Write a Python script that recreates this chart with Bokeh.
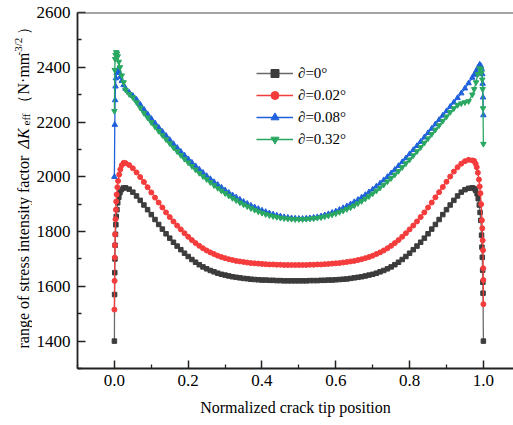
from bokeh.plotting import figure
from bokeh.models import FixedTicker, Legend, LegendItem, Span
from bokeh.layouts import row
from bokeh.core.properties import value
from bokeh.embed import file_html
from bokeh.resources import INLINE
import math

# ---------------- data ----------------
X_MID = [0.03, 0.04, 0.05, 0.06, 0.07, 0.08, 0.09, 0.10, 0.11, 0.12,
         0.13, 0.14, 0.15, 0.16, 0.17, 0.18, 0.19, 0.20, 0.21, 0.22,
         0.23, 0.24, 0.25, 0.26, 0.27, 0.28, 0.29, 0.30, 0.31, 0.32,
         0.33, 0.34, 0.35, 0.36, 0.37, 0.38, 0.39, 0.40, 0.41, 0.42,
         0.43, 0.44, 0.45, 0.46, 0.47, 0.48, 0.49, 0.50, 0.51, 0.52,
         0.53, 0.54, 0.55, 0.56, 0.57, 0.58, 0.59, 0.60, 0.61, 0.62,
         0.63, 0.64, 0.65, 0.66, 0.67, 0.68, 0.69, 0.70, 0.71, 0.72,
         0.73, 0.74, 0.75, 0.76, 0.77, 0.78, 0.79, 0.80, 0.81, 0.82,
         0.83, 0.84, 0.85, 0.86, 0.87, 0.88, 0.89, 0.90, 0.91, 0.92,
         0.93, 0.94, 0.95, 0.96, 0.97]

# a = 0
A0_XL = [0.0, 0.0005, 0.001, 0.0015, 0.002, 0.003, 0.004, 0.005, 0.007, 0.009, 0.012, 0.015, 0.019, 0.024]
A0_YL = [1400, 1570, 1650, 1700, 1750, 1790, 1825, 1855, 1880, 1905, 1925, 1942, 1953, 1959]
A0_YM = [1960, 1955, 1944, 1930, 1914, 1897, 1880, 1862, 1844, 1826,
         1809, 1792, 1776, 1761, 1747, 1734, 1721, 1709, 1698, 1688,
         1679, 1671, 1664, 1658, 1653, 1648, 1644, 1641, 1638, 1635,
         1633, 1631, 1629, 1628, 1626, 1625, 1624, 1623, 1623, 1622,
         1622, 1621, 1621, 1620, 1620, 1620, 1620, 1620, 1620, 1620,
         1621, 1621, 1621, 1622, 1622, 1623, 1623, 1624, 1625, 1626,
         1627, 1629, 1631, 1633, 1635, 1638, 1641, 1644, 1648, 1653,
         1658, 1664, 1671, 1679, 1688, 1698, 1709, 1721, 1734, 1747,
         1761, 1776, 1792, 1809, 1826, 1844, 1862, 1880, 1897, 1914,
         1930, 1944, 1953, 1958, 1960]
A0_XR = [0.975, 0.979, 0.983, 0.986, 0.989, 0.991, 0.993, 0.995, 0.996, 0.997, 0.998, 0.9985, 0.999, 1.0]
A0_YR = [1957, 1950, 1938, 1920, 1897, 1870, 1841, 1787, 1743, 1706, 1659, 1615, 1575, 1400]

# a = 0.02
A1_XL = [0.0, 0.0005, 0.001, 0.0015, 0.002, 0.003, 0.004, 0.005, 0.006, 0.008, 0.010, 0.013, 0.016, 0.020, 0.025]
A1_YL = [1515, 1620, 1705, 1750, 1790, 1845, 1880, 1910, 1935, 1962, 1985, 2008, 2027, 2042, 2051]
A1_YM = [2050, 2043, 2031, 2016, 1999, 1981, 1962, 1943, 1924, 1906,
         1888, 1870, 1853, 1837, 1822, 1808, 1794, 1781, 1769, 1758,
         1748, 1739, 1731, 1724, 1718, 1712, 1707, 1703, 1699, 1696,
         1693, 1691, 1689, 1687, 1685, 1684, 1683, 1682, 1681, 1680,
         1680, 1679, 1679, 1678, 1678, 1678, 1678, 1678, 1678, 1678,
         1679, 1679, 1680, 1680, 1681, 1682, 1683, 1684, 1685, 1687,
         1689, 1691, 1693, 1696, 1699, 1703, 1707, 1712, 1718, 1724,
         1731, 1739, 1748, 1758, 1769, 1781, 1794, 1808, 1822, 1837,
         1853, 1870, 1888, 1906, 1925, 1944, 1963, 1982, 2001, 2019,
         2035, 2048, 2057, 2062, 2060]
A1_XR = [0.975, 0.979, 0.982, 0.985, 0.988, 0.990, 0.992, 0.994, 0.996, 0.997, 0.998, 0.999, 0.9995, 0.9998, 1.0]
A1_YR = [2058, 2048, 2035, 2015, 1990, 1965, 1940, 1900, 1841, 1812, 1768, 1732, 1666, 1623, 1535]

# a = 0.08
A2_XL = [0.0, 0.001, 0.002, 0.003, 0.004, 0.006, 0.008, 0.010, 0.013, 0.016, 0.020, 0.025]
A2_YL = [2000, 2190, 2280, 2330, 2360, 2380, 2388, 2390, 2380, 2365, 2350, 2335]
A2_YM = [2322, 2308, 2296, 2282, 2264, 2246, 2229, 2212, 2196, 2180,
         2165, 2150, 2135, 2120, 2106, 2092, 2078, 2065, 2052, 2039,
         2027, 2015, 2003, 1992, 1981, 1971, 1961, 1951, 1942, 1933,
         1925, 1917, 1909, 1902, 1895, 1889, 1883, 1877, 1872, 1867,
         1863, 1859, 1856, 1853, 1851, 1849, 1848, 1847, 1847, 1848,
         1849, 1851, 1853, 1856, 1860, 1864, 1869, 1874, 1880, 1886,
         1893, 1900, 1908, 1916, 1925, 1934, 1944, 1954, 1965, 1976,
         1988, 2000, 2013, 2026, 2040, 2054, 2068, 2083, 2098, 2113,
         2128, 2144, 2160, 2176, 2192, 2208, 2224, 2240, 2256, 2272,
         2288, 2305, 2323, 2342, 2362]
A2_XR = [0.975, 0.98, 0.985, 0.99, 0.993, 0.995, 0.997, 0.998, 0.999, 1.0]
A2_YR = [2373, 2385, 2398, 2410, 2405, 2395, 2375, 2340, 2290, 2225]

# a = 0.32
A3_XL = [0.0, 0.001, 0.002, 0.003, 0.005, 0.007, 0.009, 0.012, 0.015, 0.020, 0.025]
A3_YL = [2240, 2390, 2430, 2445, 2455, 2450, 2440, 2420, 2400, 2370, 2345]
A3_YM = [2318, 2302, 2290, 2272, 2252, 2233, 2216, 2199, 2183, 2167,
         2152, 2137, 2122, 2107, 2093, 2079, 2065, 2052, 2039, 2026,
         2014, 2002, 1991, 1980, 1969, 1959, 1949, 1940, 1931, 1922,
         1914, 1906, 1899, 1892, 1885, 1879, 1873, 1868, 1863, 1859,
         1856, 1853, 1850, 1848, 1847, 1846, 1845, 1845, 1845, 1846,
         1847, 1848, 1850, 1852, 1855, 1858, 1862, 1866, 1871, 1876,
         1882, 1888, 1895, 1903, 1911, 1920, 1929, 1939, 1949, 1960,
         1971, 1983, 1995, 2008, 2021, 2035, 2049, 2063, 2078, 2093,
         2108, 2124, 2140, 2156, 2172, 2188, 2204, 2220, 2236, 2250,
         2262, 2268, 2272, 2276, 2300]
A3_XR = [0.975, 0.98, 0.985, 0.99, 0.993, 0.995, 0.997, 0.998, 0.999, 1.0]
A3_YR = [2320, 2345, 2375, 2396, 2392, 2380, 2355, 2320, 2250, 2120]

LABELS = ["∂=0°", "∂=0.02°", "∂=0.08°", "∂=0.32°"]
X_TICKS = [0.0, 0.2, 0.4, 0.6, 0.8, 1.0]
X_MINOR = [-0.1, 0.1, 0.3, 0.5, 0.7, 0.9]
Y_TICKS = [1400, 1600, 1800, 2000, 2200, 2400, 2600]
Y_MINOR = [1300, 1500, 1700, 1900, 2100, 2300, 2500]
Y_TITLE_PARTS = ["range of stress intensity factor", "ΔK", "eff", "（N·mm", "-3/2", "）"]

series = [
    (A0_XL + X_MID + A0_XR, A0_YL + A0_YM + A0_YR),
    (A1_XL + X_MID + A1_XR, A1_YL + A1_YM + A1_YR),
    (A2_XL + X_MID + A2_XR, A2_YL + A2_YM + A2_YR),
    (A3_XL + X_MID + A3_XR, A3_YL + A3_YM + A3_YR),
]

# ---------------- styling ----------------
FONT = "Liberation Serif"
LINE_COLORS = ["#6a6a6a", "#f53c3c", "#1f60dc", "#2aa862"]
MARK_COLORS = ["#3c3c3c", "#f53c3c", "#1f60dc", "#2aa862"]
MARKERS = ["square", "circle", "triangle", "inverted_triangle"]
MSIZE = [4.5, 5, 5.5, 5.5]

X0, X1 = -0.1, 1.0816
Y0, Y1 = 1300, 2600
W, H = 513, 425
LW = 32                     # width of the strip holding the y-axis title
ML, MT, MB = 77, 12, 57     # frame offsets in the page
FRAME_H = H - MT - MB

def py_to_y(py):
    return Y0 + (MT + FRAME_H - py) * (Y1 - Y0) / FRAME_H

# ---- y title strip (x in page pixels, y in the main plot's data units) ----
t = figure(width=LW, height=H, output_backend="svg", toolbar_location=None,
           x_range=(0, LW), y_range=(Y0, Y1), x_axis_type=None, y_axis_type=None,
           min_border_left=0, min_border_right=0, min_border_top=MT, min_border_bottom=MB)
t.outline_line_color = None
t.xgrid.visible = False
t.ygrid.visible = False

# (page_y of text start, baseline x, size, style)
parts_pos = [(348, 23, "16px", "normal"), (148, 23, "16px", "italic"),
             (125, 25.5, "11px", "normal"), (110, 23, "16px", "normal"),
             (55, 17, "11px", "normal"), (34, 23, "16px", "normal")]
for txt, (py, bx, sz, st) in zip(Y_TITLE_PARTS, parts_pos):
    t.text(x=[bx], y=[py_to_y(py)], text=[txt], angle=math.pi / 2,
           text_align="left", text_baseline="alphabetic",
           text_font=value(FONT), text_font_size=sz, text_font_style=st,
           text_color="black")

# ---- main plot ----
p = figure(width=W - LW, height=H, output_backend="svg", toolbar_location=None,
           x_range=(X0, X1), y_range=(Y0, Y1),
           min_border_left=ML - LW, min_border_right=0, min_border_top=MT, min_border_bottom=MB)
p.outline_line_color = None
p.xgrid.visible = False
p.ygrid.visible = False
p.background_fill_color = "white"

items = []
for i, (xs, ys) in enumerate(series):
    r1 = p.line(xs, ys, line_color=LINE_COLORS[i], line_width=1.3)
    r2 = p.scatter(xs, ys, marker=MARKERS[i], size=MSIZE[i],
                   fill_color=MARK_COLORS[i], line_color=MARK_COLORS[i])
    items.append(LegendItem(label=LABELS[i], renderers=[r1, r2]))

legend = Legend(items=items, location=(179, 219), orientation="vertical",
                glyph_width=37, glyph_height=20, label_height=20, label_standoff=5,
                spacing=2, padding=0, margin=0, border_line_color=None,
                background_fill_alpha=0, label_text_font=FONT,
                label_text_font_size="15px", label_text_color="black")
p.add_layout(legend, "center")

for ax in (p.xaxis[0], p.yaxis[0]):
    ax.axis_line_width = 1.8
    ax.axis_line_color = "#222222"
    ax.major_tick_in = 8
    ax.major_tick_out = 0
    ax.minor_tick_in = 4
    ax.minor_tick_out = 0
    ax.major_tick_line_width = 1.5
    ax.minor_tick_line_width = 1.3
    ax.major_tick_line_color = "#222222"
    ax.minor_tick_line_color = "#222222"
    ax.major_label_text_font = FONT
    ax.major_label_text_font_size = "17px"
    ax.major_label_text_color = "black"

p.xaxis[0].ticker = FixedTicker(ticks=X_TICKS, minor_ticks=X_MINOR)
p.yaxis[0].ticker = FixedTicker(ticks=Y_TICKS, minor_ticks=Y_MINOR)
p.xaxis[0].major_label_overrides = {tk: f"{tk:.1f}" for tk in X_TICKS}
p.xaxis[0].major_label_standoff = 6
p.yaxis[0].major_label_standoff = 7
p.xaxis[0].axis_label = "Normalized crack tip position"
p.xaxis[0].axis_label_text_font = FONT
p.xaxis[0].axis_label_text_font_style = "normal"
p.xaxis[0].axis_label_text_font_size = "16px"
p.xaxis[0].axis_label_text_color = "black"
p.xaxis[0].axis_label_standoff = 10

# top frame line
p.add_layout(Span(location=Y1, dimension="width", line_color="#4a4a4a", line_width=2.2))

layout = row(t, p, spacing=0)
open("out.html", "w").write(file_html(layout, INLINE))
